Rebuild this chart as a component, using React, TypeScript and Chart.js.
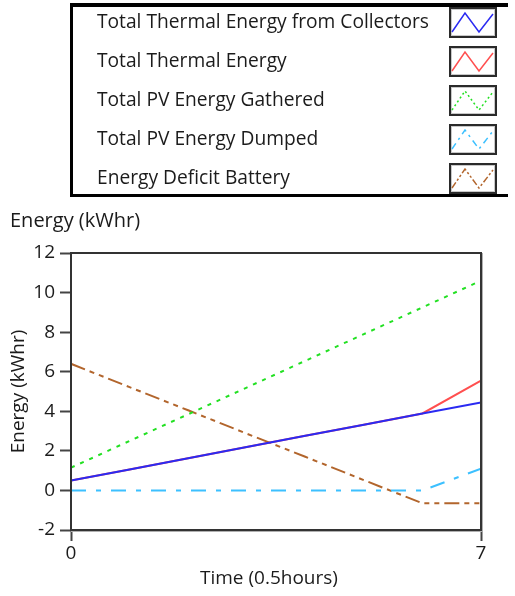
import React, { useEffect, useRef } from "react";
import { Chart, registerables } from "chart.js";

Chart.register(...registerables);

// ---- data ----
const timeSteps = [0, 1, 2, 3, 4, 5, 6, 7];
const seriesNames = [
  "Total Thermal Energy from Collectors",
  "Total Thermal Energy",
  "Total PV Energy Gathered",
  "Total PV Energy Dumped",
  "Energy Deficit Battery",
];
const thermalCollectors = [0.5, 1.06, 1.63, 2.19, 2.76, 3.32, 3.89, 4.45];
const thermalTotal = [0.5, 1.06, 1.63, 2.19, 2.76, 3.32, 3.89, 5.55];
const pvGathered = [1.15, 2.5, 3.85, 5.2, 6.55, 7.9, 9.25, 10.6];
const pvDumped = [0, 0, 0, 0, 0, 0, 0, 1.1];
const deficitBattery = [6.4, 5.22, 4.05, 2.87, 1.7, 0.52, -0.65, -0.65];
const yTickValues = [-2, 0, 2, 4, 6, 8, 10, 12];
const xTickValues = [0, 7];
const yAxisTitle = "Energy (kWhr)";
const topTitle = "Energy (kWhr)";
const xAxisTitle = "Time (0.5hours)";

const seriesValues = [thermalCollectors, thermalTotal, pvGathered, pvDumped, deficitBattery];
const seriesColors = ["#2a2af2", "#ff4f4f", "#22e022", "#3cc0ff", "#b2652c"];
const seriesDashes: number[][] = [[], [], [4, 6], [15, 10, 5, 10], [15, 5, 5, 5, 5, 5]];

const FONT = "'Open Sans', 'Noto Sans', sans-serif";
const TEXT = "#1b1b1b";

const decorPlugin = {
  id: "decor",
  beforeDraw(chart: any) {
    const ctx = chart.ctx;
    ctx.save();
    ctx.fillStyle = "#ffffff";
    ctx.fillRect(0, 0, chart.width, chart.height);
    ctx.restore();
  },
  afterDatasetsDraw(chart: any) {
    const { ctx, chartArea: a } = chart;
    ctx.save();
    ctx.strokeStyle = "#b0b0b0";
    ctx.lineWidth = 1;
    ctx.beginPath();
    ctx.moveTo(a.right + 1.5, a.top);
    ctx.lineTo(a.right + 1.5, a.bottom + 1.5);
    ctx.lineTo(a.left, a.bottom + 1.5);
    ctx.stroke();
    ctx.strokeStyle = "#333333";
    ctx.lineWidth = 2;
    ctx.strokeRect(a.left, a.top, a.right - a.left, a.bottom - a.top);
    ctx.restore();
  },
  afterDraw(chart: any) {
    const ctx = chart.ctx;
    ctx.save();
    // legend frame
    ctx.fillStyle = "#000000";
    ctx.fillRect(70, 3, 438, 4);
    ctx.fillRect(70, 3, 3, 194);
    ctx.fillRect(70, 194, 438, 3);
    chart.data.datasets.forEach((ds: any, i: number) => {
      const top = 7 + 39 * i;
      ctx.fillStyle = TEXT;
      ctx.font = `19.2px ${FONT}`;
      ctx.textAlign = "left";
      ctx.textBaseline = "middle";
      ctx.fillText(ds.label, 97, top + 16);
      // sample box
      ctx.strokeStyle = "#2a2a2a";
      ctx.lineWidth = 2;
      ctx.strokeRect(450, top + 1, 46, 29);
      ctx.strokeStyle = "#c8c8c8";
      ctx.lineWidth = 1;
      ctx.strokeRect(451.5, top + 2.5, 43, 26);
      ctx.strokeStyle = ds.borderColor;
      ctx.lineWidth = 1.5;
      ctx.setLineDash(ds.borderDash && ds.borderDash.length ? ds.borderDash.map((d: number) => Math.max(2, d * 0.45)) : []);
      ctx.beginPath();
      ctx.moveTo(452, top + 25);
      ctx.lineTo(465, top + 6);
      ctx.lineTo(479, top + 25);
      ctx.lineTo(493, top + 7);
      ctx.stroke();
      ctx.setLineDash([]);
    });
    // titles
    ctx.fillStyle = TEXT;
    ctx.textAlign = "left";
    ctx.textBaseline = "middle";
    ctx.font = `20px ${FONT}`;
    ctx.fillText(topTitle, 10, 221);
    ctx.font = `19px ${FONT}`;
    ctx.fillText(xAxisTitle, 200, 579);
    ctx.restore();
  },
};

export default function App() {
  const ref = useRef<HTMLCanvasElement | null>(null);
  useEffect(() => {
    if (!ref.current) return;
    const chart = new Chart(ref.current, {
      type: "line",
      data: {
        datasets: seriesNames.map((name, i) => ({
          label: name,
          data: timeSteps.map((t, j) => ({ x: t, y: seriesValues[i][j] })),
          borderColor: seriesColors[i],
          backgroundColor: seriesColors[i],
          borderDash: seriesDashes[i],
          borderWidth: 2,
          borderCapStyle: "butt",
          pointRadius: 0,
          tension: 0,
          fill: false,
        })),
      },
      options: {
        animation: false,
        responsive: false,
        devicePixelRatio: 1,
        events: [],
        layout: { padding: { top: 253, right: 34, left: 0, bottom: 0 } },
        plugins: { legend: { display: false }, tooltip: { enabled: false }, title: { display: false } },
        scales: {
          x: {
            type: "linear",
            min: 0,
            max: 7,
            afterBuildTicks: (s: any) => {
              s.ticks = xTickValues.map((v) => ({ value: v }));
            },
            afterFit: (s: any) => {
              s.height = 66;
            },
            grid: { drawOnChartArea: false, drawTicks: true, tickLength: 11, tickColor: "#444", tickWidth: 2 },
            border: { display: false },
            ticks: { color: TEXT, font: { family: FONT, size: 19 }, padding: 1, maxRotation: 0 },
          },
          y: {
            type: "linear",
            min: -2,
            max: 12,
            afterBuildTicks: (s: any) => {
              s.ticks = yTickValues.map((v) => ({ value: v }));
            },
            afterFit: (s: any) => {
              s.width = 71;
            },
            grid: { drawOnChartArea: false, drawTicks: true, tickLength: 11, tickColor: "#444", tickWidth: 2 },
            border: { display: false },
            ticks: { color: TEXT, font: { family: FONT, size: 19 }, padding: 5 },
            title: {
              display: true,
              text: yAxisTitle,
              color: TEXT,
              font: { family: FONT, size: 19 },
              padding: { top: 7, bottom: 0 },
            },
          },
        },
      },
      plugins: [decorPlugin],
    } as any);
    return () => chart.destroy();
  }, []);
  return (
    <div style={{ position: "absolute", left: 0, top: 0, width: 515, height: 596 }}>
      <canvas ref={ref} width={515} height={596} style={{ display: "block", width: 515, height: 596 }} />
    </div>
  );
}
